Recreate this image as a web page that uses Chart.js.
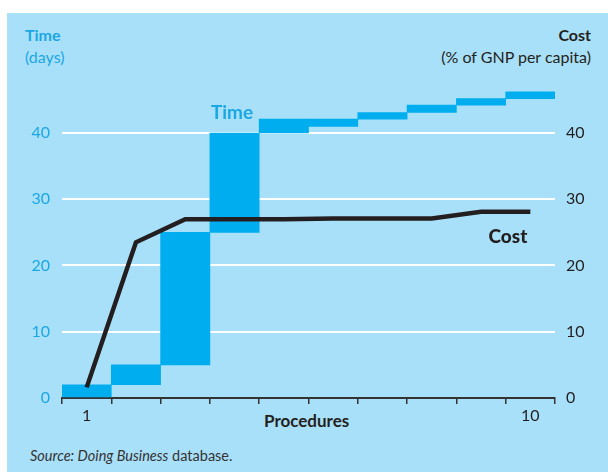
<!DOCTYPE html>
<html>
<head>
<meta charset="utf-8">
<script src="https://cdn.jsdelivr.net/npm/chart.js@4/dist/chart.umd.min.js"></script>
<style>
  html, body { margin: 0; padding: 0; background: #fff; }
  body { width: 608px; height: 472px; position: relative; overflow: hidden; font-family: Lato, "Noto Sans", sans-serif; }
  #panel { position: absolute; left: 7px; top: 13px; width: 601px; height: 459px; background: #a9e0f9; }
  #wrap { position: absolute; left: 0; top: 0; width: 601px; height: 459px; }
  .lbl { position: absolute; font-size: 16px; line-height: 20px; white-space: nowrap; }
  .blue { color: #1aa7e4; }
  .dark { color: #231f20; }
  .b { font-weight: bold; }
</style>
</head>
<body>
<div id="panel">
  <div class="lbl blue b" style="left:18px; top:12px;">Time</div>
  <div class="lbl blue" style="left:18px; top:34px;">(days)</div>
  <div class="lbl dark b" style="right:17px; top:12px; text-align:right;">Cost</div>
  <div class="lbl dark" style="right:17px; top:34px; text-align:right;">(% of GNP per capita)</div>
  <div class="lbl dark b" style="left:257px; top:398px; font-size:17px;">Procedures</div>
  <div class="lbl dark" style="left:23px; top:433px; font-size:14.5px; color:#333;"><i>Source: Doing Business</i> database.</div>
  <div id="wrap"><canvas id="chart"></canvas></div>
</div>
<script>
"use strict";

// Procedures 1..10
const procedures = ['1', '2', '3', '4', '5', '6', '7', '8', '9', '10'];
const tickLabels = ['1', '', '', '', '', '', '', '', '', '10'];

// Time (days): each procedure is a floating bar from start to end
const timeStart = [0, 2, 5, 25, 40, 41, 42.1, 43.1, 44.2, 45.2];
const timeEnd   = [2, 5, 25, 40, 42.1, 42.1, 43.1, 44.2, 45.2, 46.2];

// Cost (% of GNP per capita), cumulative
const cost = [1.6, 23.5, 27, 27, 27, 27.1, 27.1, 27.1, 28.1, 28.1];

const yTicks = [0, 10, 20, 30, 40];

const timeBars = timeStart.map((s, i) => [s, timeEnd[i]]);

const FONT = 'Lato, "Noto Sans", sans-serif';

// in-plot labels "Time" and "Cost"
const seriesLabels = {
    id: 'seriesLabels',
    afterDatasetsDraw(chart) {
        const ctx = chart.ctx;
        const x = chart.scales.x;
        const y = chart.scales.y;
        const y2 = chart.scales.y2;
        const step = x.getPixelForValue(1) - x.getPixelForValue(0);
        ctx.save();
        ctx.font = 'bold 19px ' + FONT;
        ctx.textBaseline = 'alphabetic';
        ctx.fillStyle = '#1aa7e4';
        ctx.textAlign = 'left';
        ctx.fillText('Time', x.getPixelForValue(3) - step / 2 + 1, y.getPixelForValue(40) - 14);
        ctx.fillStyle = '#231f20';
        ctx.font = '900 19px ' + FONT;
        ctx.textAlign = 'right';
        ctx.fillText('Cost', x.getPixelForValue(9) - 3, y2.getPixelForValue(cost[9]) + 31);
        ctx.restore();
    }
};

function keepTicks(scale) {
    scale.ticks = yTicks.map(v => ({ value: v }));
}

new Chart(document.getElementById('chart'), {
    data: {
        labels: procedures,
        datasets: [
            {
                type: 'line',
                label: 'Cost',
                data: cost,
                yAxisID: 'y2',
                borderColor: '#231f20',
                borderWidth: 4.5,
                pointRadius: 0,
                tension: 0,
                order: 0
            },
            {
                type: 'bar',
                label: 'Time',
                data: timeBars,
                yAxisID: 'y',
                backgroundColor: '#00aeef',
                borderWidth: 0,
                categoryPercentage: 1,
                barPercentage: 1,
                order: 1
            }
        ]
    },
    options: {
        responsive: true,
        maintainAspectRatio: false,
        animation: false,
        layout: { padding: { top: 67, left: 0, right: 0, bottom: 0 } },
        plugins: { legend: { display: false }, tooltip: { enabled: false } },
        scales: {
            x: {
                offset: true,
                afterFit(scale) { scale.height = 74; },
                grid: {
                    offset: true,
                    drawOnChartArea: false,
                    drawTicks: true,
                    tickLength: 6,
                    color: '#333',
                    lineWidth: 1.5
                },
                border: { display: true, color: '#333', width: 2 },
                ticks: {
                    autoSkip: false,
                    maxRotation: 0,
                    padding: 2,
                    color: '#231f20',
                    font: { family: FONT, size: 16 },
                    callback: (v, i) => tickLabels[i]
                }
            },
            y: {
                position: 'left',
                min: 0,
                max: 48,
                afterFit(scale) { scale.width = 55; },
                afterBuildTicks: keepTicks,
                grid: {
                    drawTicks: false,
                    color: ctx => ctx.tick && ctx.tick.value === 0 ? 'rgba(0,0,0,0)' : '#ffffff',
                    lineWidth: 2
                },
                border: { display: false },
                ticks: {
                    padding: 12,
                    color: '#1aa7e4',
                    font: { family: FONT, size: 16 }
                }
            },
            y2: {
                position: 'right',
                min: 0,
                max: 48,
                afterFit(scale) { scale.width = 53; },
                afterBuildTicks: keepTicks,
                grid: { display: false, drawTicks: false },
                border: { display: false },
                ticks: {
                    padding: 11,
                    color: '#231f20',
                    font: { family: FONT, size: 16 }
                }
            }
        }
    },
    plugins: [seriesLabels]
});
</script>
</body>
</html>
